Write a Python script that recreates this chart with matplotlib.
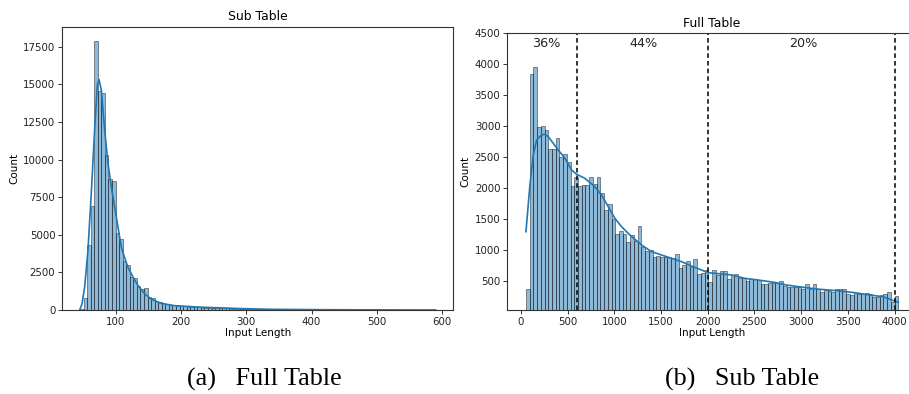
import numpy as np
import matplotlib
matplotlib.use("Agg")
import matplotlib.pyplot as plt

# ---------------- data ----------------
# Left panel ("Sub Table"): 100 bins between 45.5 and 589.5
left_range = (45.5, 589.5)
left_counts = [60, 780, 4290, 6890, 17910, 14560, 14400, 10290, 8730, 8580,
               5130, 4730, 3240, 3020, 2180, 2110, 1580, 1400, 1440, 890,
               780, 620, 510, 440, 400, 355, 330, 300, 270, 250,
               225, 210, 195, 180, 165, 155, 145, 135, 125, 118,
               110, 100, 95, 88, 80, 75, 70, 62, 56, 50,
               46, 42, 38, 35, 32, 30, 27, 25, 23, 21,
               20, 18, 17, 16, 15, 14, 13, 12, 12, 11,
               10, 10, 9, 9, 8, 8, 7, 7, 6, 6,
               6, 5, 5, 5, 4, 4, 4, 4, 3, 3,
               3, 3, 3, 2, 2, 2, 2, 2, 2, 2]
left_kde_x = [45, 48.5, 52.5, 57.6, 62.7, 67.8, 71.9, 74.5, 78.1, 83.2, 88.3,
              93.4, 98.5, 103.6, 108.7, 113.8, 118.9, 126.6, 134.3, 144.5,
              154.7, 170, 190, 224, 255, 295, 340, 400, 470, 530, 590]
left_kde_y = [0, 400, 1500, 3950, 7730, 11950, 14950, 15330, 14620, 11960, 9730,
              8180, 6840, 5510, 4180, 3470, 2840, 2180, 1620, 1070,
              710, 440, 290, 200, 150, 90, 45, 25, 12, 7, 4]

# Right panel ("Full Table"): 100 bins between 53 and 4040
right_range = (53, 4040)
right_counts = [361, 3834, 3942, 2984, 3000, 2931, 2624, 2619, 2797, 2500,
                2540, 2410, 2030, 2180, 2030, 2050, 2040, 2180, 2060, 2180,
                1910, 1640, 1730, 1500, 1260, 1300, 1250, 1130, 1240, 1140,
                1380, 1050, 980, 995, 880, 900, 887, 887, 877, 860,
                925, 700, 753, 817, 726, 850, 608, 630, 672, 484,
                672, 592, 661, 656, 527, 592, 602, 548, 538, 495,
                522, 522, 511, 447, 447, 468, 468, 468, 495, 415,
                404, 404, 393, 404, 366, 441, 366, 441, 366, 323,
                350, 339, 323, 366, 360, 360, 285, 269, 296, 280,
                280, 296, 280, 243, 243, 269, 285, 312, 161, 258]
right_kde_x = [53.5, 96, 132, 168, 221, 257, 292, 346, 399, 471, 542, 595, 684,
               791, 863, 934, 1005, 1077, 1166, 1291, 1398, 1505, 1612, 1719,
               1826, 1933, 2004, 2147, 2254, 2396, 2538, 2709, 2842, 3020, 3198,
               3376, 3554, 3733, 3875, 4000, 4040]
right_kde_y = [1290, 2044, 2527, 2769, 2850, 2861, 2822, 2716, 2608, 2474, 2286,
               2216, 2152, 2016, 1882, 1694, 1506, 1371, 1237, 1076, 968, 914,
               861, 806, 737, 672, 629, 608, 592, 538, 511, 474, 430, 393, 361,
               339, 310, 269, 242, 172, 150]

split_points = [600, 2000, 4000]
share_labels = ["36%", "44%", "20%"]
share_label_x = [275, 1310, 3020]

left_title = "Sub Table"
right_title = "Full Table"
captions = ["(a)   Full Table", "(b)   Sub Table"]

# ---------------- style ----------------
BLUE = "#1f77b4"
plt.rcParams["font.family"] = ["DejaVu Sans"]
plt.rcParams["axes.edgecolor"] = "#333333"
plt.rcParams["xtick.color"] = "#333333"
plt.rcParams["ytick.color"] = "#333333"
plt.rcParams["xtick.labelcolor"] = "#222222"
plt.rcParams["ytick.labelcolor"] = "#222222"

fig = plt.figure(figsize=(9.09, 3.94), dpi=100)

def draw_hist(ax, rng, counts, kx, ky):
    edges = np.linspace(rng[0], rng[1], len(counts) + 1)
    ax.bar(edges[:-1], counts, width=np.diff(edges), align="edge",
           facecolor=BLUE, edgecolor="black", linewidth=0.6, alpha=0.5)
    ax.plot(kx, ky, color=BLUE, linewidth=1.2)

# left
axL = fig.add_axes([0.0685, 0.2132, 0.4301, 0.7175])
draw_hist(axL, left_range, left_counts, left_kde_x, left_kde_y)
axL.set_xlim(18.3, 616.8)
axL.set_ylim(0, 18790)
axL.set_xticks([100, 200, 300, 400, 500, 600])
axL.set_yticks([0, 2500, 5000, 7500, 10000, 12500, 15000, 17500])
axL.set_title(left_title, fontsize=8.9, pad=5)
axL.set_xlabel("Input Length", fontsize=7.5, labelpad=1)
axL.set_ylabel("Count", fontsize=7.5, labelpad=3)
axL.tick_params(labelsize=7.4, length=3, width=0.7, pad=2)

# right
axR = fig.add_axes([0.5581, 0.2132, 0.4507, 0.7038])
draw_hist(axR, right_range, right_counts, right_kde_x, right_kde_y)
for xv in split_points:
    axR.axvline(xv, color="black", linestyle=(0, (3, 2)), linewidth=1.1)
for lab, xv in zip(share_labels, share_label_x):
    axR.text(xv, 4330, lab, fontsize=9.2, ha="center", va="center", color="#222222")
axR.set_xlim(-146, 4240)
axR.set_ylim(27, 4500)
axR.set_xticks(np.arange(0, 4001, 500))
axR.set_yticks(np.arange(500, 4501, 500))
axR.set_title(right_title, fontsize=8.9, pad=4)
axR.set_xlabel("Input Length", fontsize=7.5, labelpad=1)
axR.set_ylabel("Count", fontsize=7.5, labelpad=3)
axR.tick_params(labelsize=7.4, length=3, width=0.7, pad=2)

for ax in (axL, axR):
    for s in ax.spines.values():
        s.set_linewidth(0.8)

fig.text(187.3 / 909, 0.038, captions[0], family="Liberation Serif",
         fontsize=18.8, ha="left", va="center", color="black")
fig.text(664.6 / 909, 0.038, captions[1], family="Liberation Serif",
         fontsize=18.8, ha="left", va="center", color="black")

fig.savefig("out.png", dpi=100)
